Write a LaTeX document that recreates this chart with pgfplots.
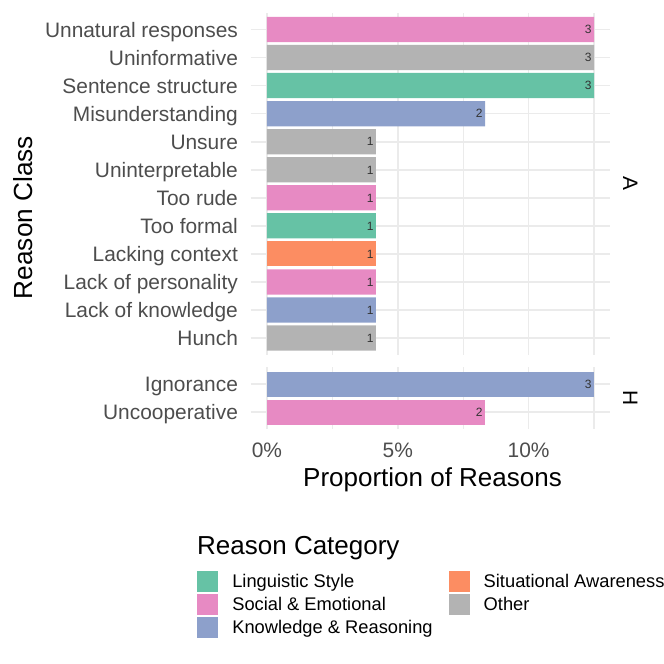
\documentclass[border=0pt]{standalone}
\usepackage{pgfplots}
\pgfplotsset{compat=1.18}
\usepackage{fontspec}
\setmainfont{Liberation Sans}
\definecolor{cLing}{HTML}{66C2A5}
\definecolor{cSit}{HTML}{FC8D62}
\definecolor{cSoc}{HTML}{E78AC3}
\definecolor{cKno}{HTML}{8DA0CB}
\definecolor{cOth}{HTML}{B3B3B3}
\definecolor{gridc}{HTML}{EBEBEB}
\definecolor{tickc}{HTML}{4D4D4D}
\definecolor{cntc}{HTML}{333333}
\pgfplotsset{
  legsq/.style={legend image code/.code={\fill[##1] (0pt,-4.32pt) rectangle (10.5pt,6.18pt);}},
  panel/.style={
    scale only axis, width=179.9pt, anchor=south west,
    xmin=-0.625, xmax=13.125,
    xbar, bar width=0.9,
    every axis plot/.append style={bar shift=0pt, bar width=0.9, draw=none},
    axis line style={draw=none},
    major tick length=0pt, minor tick length=0pt,
    xtick={0,5,10}, minor xtick={2.5,7.5,12.5},
    xmajorgrids, xminorgrids, ymajorgrids,
    major grid style={gridc, line width=0.85pt},
    minor grid style={gridc, line width=0.6pt},
    yticklabel style={font=\fontsize{10.45}{12}\selectfont, text=tickc, anchor=base east, inner sep=0pt, xshift=-6.15pt, yshift=-3.74pt},
    xticklabel style={font=\fontsize{10.45}{12}\selectfont, text=tickc, anchor=base, inner sep=0pt, yshift=-14pt},
    point meta=explicit symbolic,
    nodes near coords,
    every node near coord/.append style={font=\fontsize{6}{7}\selectfont, text=cntc, anchor=base east, inner sep=0pt, xshift=-1pt, yshift=-2.15pt},
  }
}
\begin{document}
\begin{tikzpicture}
\useasboundingbox (0pt,0pt) rectangle (332pt,332pt);
% Panel A
\begin{axis}[panel,
  at={(125.3pt,154.6pt)}, height=171.05pt,
  ymin=0.4, ymax=12.6,
  ytick={1,...,12},
  yticklabels={Hunch,Lack of knowledge,Lack of personality,Lacking context,Too formal,Too rude,Uninterpretable,Unsure,Misunderstanding,Sentence structure,Uninformative,Unnatural responses},
  xticklabels={},
  ylabel={Reason Class},
  ylabel style={at={(axis description cs:-0.6331,0.4013)}, anchor=center, inner sep=0pt, font=\fontsize{13.1}{15}\selectfont},
]
\addplot[fill=cSoc] coordinates {(12.5,12) [3] (4.1667,6) [1] (4.1667,3) [1]};
\addplot[fill=cOth] coordinates {(12.5,11) [3] (4.1667,8) [1] (4.1667,7) [1] (4.1667,1) [1]};
\addplot[fill=cLing] coordinates {(12.5,10) [3] (4.1667,5) [1]};
\addplot[fill=cKno] coordinates {(8.3333,9) [2] (4.1667,2) [1]};
\addplot[fill=cSit] coordinates {(4.1667,4) [1]};
\end{axis}
% Panel H
\begin{axis}[panel,
  at={(125.3pt,117.5pt)}, height=30.8pt,
  ymin=0.4, ymax=2.6,
  ytick={1,2},
  yticklabels={Uncooperative,Ignorance},
  xticklabels={0\%,5\%,10\%},
  xlabel={Proportion of Reasons},
  xlabel style={at={(axis description cs:0.5056,0)}, anchor=base, inner sep=0pt, yshift=-28.5pt, font=\fontsize{13}{15}\selectfont},
  legend columns=2,
  legend cell align=left,
  legend style={at={(axis description cs:-0.14814,-2.2971)}, anchor=north west, draw=none, fill=none, inner sep=0pt, outer sep=0pt, row sep=0.97pt,
    font=\fontsize{9.15}{11}\selectfont,
    nodes={inner sep=0pt, text height=6.7pt, text depth=2pt},
    /tikz/every odd column/.append style={column sep=7pt},
    /tikz/every even column/.append style={column sep=8pt}},
]
\addlegendimage{legsq, fill=cLing, draw=none}
\addlegendimage{legsq, fill=cSit, draw=none}
\addlegendimage{legsq, fill=cSoc, draw=none}
\addlegendimage{legsq, fill=cOth, draw=none}
\addlegendimage{legsq, fill=cKno, draw=none}
\addplot[fill=cKno, forget plot] coordinates {(12.5,2) [3]};
\addplot[fill=cSoc, forget plot] coordinates {(8.3333,1) [2]};
\legend{Linguistic Style,Situational Awareness,Social \& Emotional,Other,Knowledge \& Reasoning}
\end{axis}
\node[rotate=-90, inner sep=0pt, font=\fontsize{10.45}{12}\selectfont] at (315.1pt,240.1pt) {A};
\node[rotate=-90, inner sep=0pt, font=\fontsize{10.45}{12}\selectfont] at (315.1pt,132.9pt) {H};
\node[anchor=base west, inner sep=0pt, font=\fontsize{13}{15}\selectfont] at (98.4pt,54.85pt) {Reason Category};
\end{tikzpicture}
\end{document}
